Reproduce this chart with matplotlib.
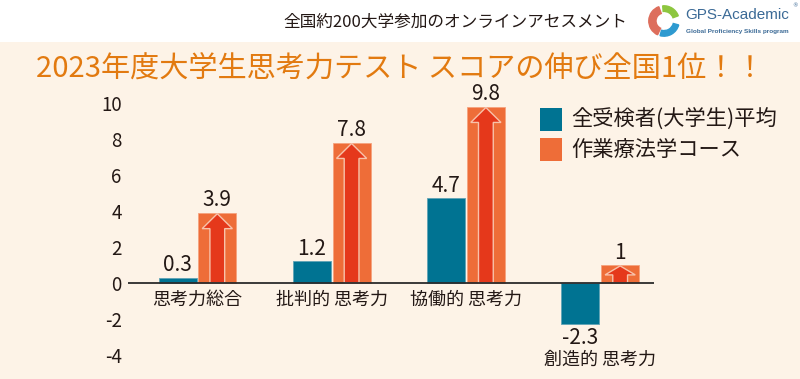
import matplotlib
import matplotlib.pyplot as plt
import matplotlib.patches as mpatches

import numpy as np

matplotlib.rcParams['font.family'] = ['Noto Sans CJK JP', 'DejaVu Sans']

categories = ["思考力総合", "批判的 思考力", "協働的 思考力", "創造的 思考力"]
all_students = [0.3, 1.2, 4.7, -2.3]
ot_course = [3.9, 7.8, 9.8, 1.0]
value_labels_all = ["0.3", "1.2", "4.7", "-2.3"]
value_labels_ot = ["3.9", "7.8", "9.8", "1"]
yticks = [10, 8, 6, 4, 2, 0, -2, -4]
series_names = ["全受検者(大学生)平均", "作業療法学コース"]

BLUE = "#007392"
ORANGE = "#EE6D38"
RED = "#E5381B"
CREAM = "#FDF3E7"
TEXT = "#231815"

W, H = 800, 379


def fx(px):
    return px / W


def fy(py):
    return 1 - py / H


fig = plt.figure(figsize=(8, 3.79), dpi=100)
bg = fig.add_axes([0, 0, 1, fy(42)], zorder=-10)
bg.set_facecolor(CREAM)
bg.axis("off")
bg.add_patch(mpatches.Rectangle((0, 0), 1, 1, transform=bg.transAxes,
                                facecolor=CREAM, edgecolor="none"))

# header
fig.text(fx(283), fy(22), "全国約200大学参加のオンラインアセスメント", fontsize=12,
         color=TEXT, ha="left", va="center")
fig.text(0.5, fy(70), "2023年度大学生思考力テスト スコアの伸び全国1位！！", fontsize=21,
         color="#E27A10", ha="center", va="center")

# logo
lax = fig.add_axes([fx(648), fy(38), 32 / W, 34 / H])
lax.set_xlim(-1, 1)
lax.set_ylim(-1, 1)
lax.set_aspect("equal")
lax.axis("off")
lax.add_patch(mpatches.Wedge((0, 0), 0.95, 20, 95, width=0.35, color="#8DC63F"))
lax.add_patch(mpatches.Wedge((0, 0), 0.95, 255, 345, width=0.35, color="#2E9AD0"))
lax.add_patch(mpatches.Wedge((0, 0), 0.95, 110, 245, width=0.45, color="#DD6E5C"))
fig.text(fx(685), fy(15), "GPS-Academic", fontsize=11, color="#3B6A96",
         ha="left", va="center", family="Liberation Sans")
fig.text(fx(798), fy(6), "®", fontsize=4, color="#3B6A96", ha="right", va="center",
         family="DejaVu Sans")
fig.text(fx(686), fy(31), "Global Proficiency Skills program", fontsize=4.6, color="#3B6A96",
         ha="left", va="center", family="Liberation Sans", weight="bold")

# chart
ax = fig.add_axes([fx(128), fy(364), (654 - 128) / W, (364 - 94) / H])
ax.set_facecolor("none")
ax.set_xlim(-0.517, 3.40)
ax.set_ylim(-4.5, 10.5)
for s in ax.spines.values():
    s.set_visible(False)
ax.set_xticks([])
ax.set_yticks(yticks)
ax.set_yticklabels([str(t) for t in yticks])
ax.tick_params(axis="y", length=0, pad=4.5, labelsize=13.5, labelcolor=TEXT)

x = np.arange(len(categories))
bw = 0.283
off = 0.148
ax.bar(x - off, all_students, bw, color=BLUE, edgecolor="#5FA3B6", linewidth=0.6, zorder=2)
ax.bar(x + off, ot_course, bw, color=ORANGE, edgecolor="#F6A27E", linewidth=0.6, zorder=2)
ax.axhline(0, color="#2b2b2b", linewidth=1.3, zorder=3)

# arrows inside orange bars
for xi, v in zip(x + off, ot_course):
    hl = min(0.83, v * 0.5)
    ax.add_patch(mpatches.FancyArrow(xi, 0, 0, v - 0.05, width=0.11, head_width=0.225,
                                     head_length=hl, length_includes_head=True,
                                     facecolor=RED, edgecolor="#F8C2AA", linewidth=1.0,
                                     zorder=2.5))

for xi, v, lab in zip(x - off, all_students, value_labels_all):
    if v >= 0:
        ax.annotate(lab, (xi, v), xytext=(0, 1), textcoords="offset points",
                    ha="center", va="bottom", fontsize=15, color=TEXT)
    else:
        ax.annotate(lab, (xi, v), xytext=(0, -2), textcoords="offset points",
                    ha="center", va="top", fontsize=15, color=TEXT)
for xi, v, lab in zip(x + off, ot_course, value_labels_ot):
    ax.annotate(lab, (xi, v), xytext=(0, 1), textcoords="offset points",
                ha="center", va="bottom", fontsize=15, color=TEXT)

# category labels
for xi, v, lab in zip(x, all_students, categories):
    ypos = -0.94 if v >= 0 else -4.25
    ax.text(xi, ypos, lab, ha="center", va="center", fontsize=13, color=TEXT)

# legend
for i, (name, c) in enumerate(zip(series_names, [BLUE, ORANGE])):
    top = 108 + i * 30
    fig.patches.append(mpatches.Rectangle((fx(540), fy(top + 23)), 22 / W, 23 / H,
                                          transform=fig.transFigure, facecolor=c,
                                          edgecolor="none"))
    fig.text(fx(571), fy(top + 11.5), name, fontsize=15.3, color=TEXT, ha="left", va="center")

fig.savefig("out.png", dpi=100)
